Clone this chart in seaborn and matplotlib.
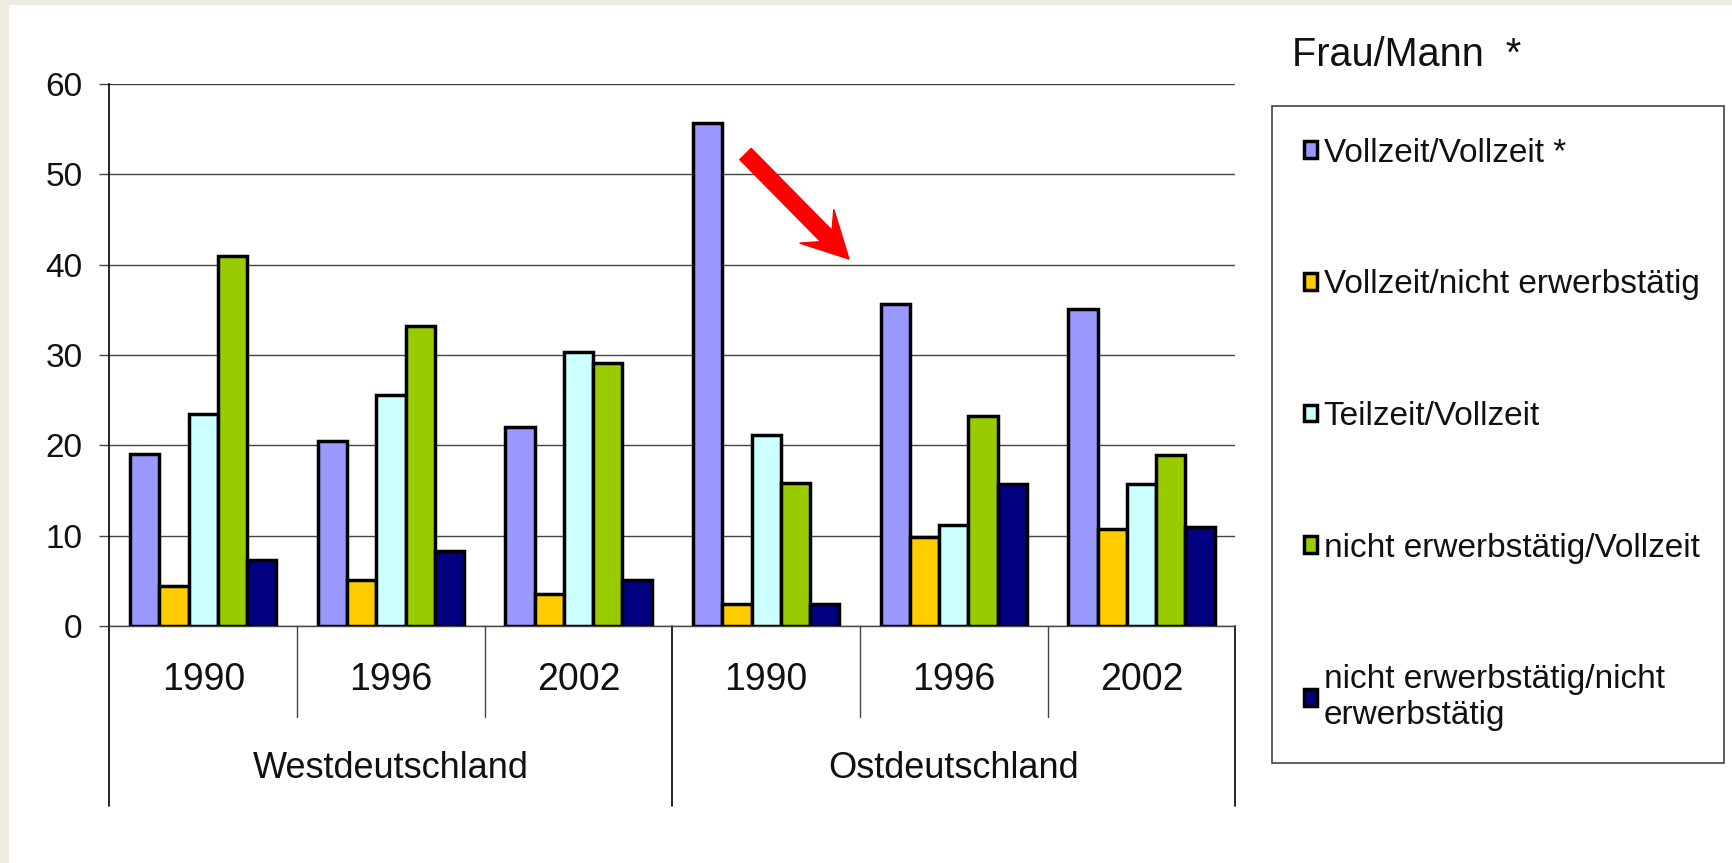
"""
Erwerbskonstellationen von Paaren (Frau/Mann), West- und Ostdeutschland
"""

import matplotlib
matplotlib.use('Agg')  # no display
import matplotlib.pyplot as plt
import matplotlib.transforms as mtransforms
from matplotlib.patches import Patch, Rectangle, FancyArrow
import pandas as pd
import seaborn as sns

# --- data -------------------------------------------------------------
regionen = ["Westdeutschland", "Ostdeutschland"]
jahre = ["1990", "1996", "2002"]

typen = [
    "Vollzeit/Vollzeit *",
    "Vollzeit/nicht erwerbstätig",
    "Teilzeit/Vollzeit",
    "nicht erwerbstätig/Vollzeit",
    "nicht erwerbstätig/nicht erwerbstätig",
]
legenden_texte = [
    "Vollzeit/Vollzeit *",
    "Vollzeit/nicht erwerbstätig",
    "Teilzeit/Vollzeit",
    "nicht erwerbstätig/Vollzeit",
    "nicht erwerbstätig/nicht\nerwerbstätig",
]

# West 1990, 1996, 2002, Ost 1990, 1996, 2002
vollzeit_vollzeit = [19.0, 20.5, 22.0, 55.7, 35.6, 35.1]
vollzeit_nicht = [4.4, 5.1, 3.6, 2.4, 9.8, 10.7]
teilzeit_vollzeit = [23.5, 25.6, 30.3, 21.2, 11.2, 15.7]
nicht_vollzeit = [41.0, 33.2, 29.1, 15.8, 23.3, 18.9]
nicht_nicht = [7.3, 8.3, 5.1, 2.4, 15.7, 11.0]

farben = ["#9999FF", "#FFCC00", "#CCFFFF", "#99CC00", "#000080"]

# long format table for seaborn
gruppen = [f"{r} {j}" for r in regionen for j in jahre]
werte = [vollzeit_vollzeit, vollzeit_nicht, teilzeit_vollzeit, nicht_vollzeit, nicht_nicht]
rows = []
for typ, reihe in zip(typen, werte):
    for gruppe, wert in zip(gruppen, reihe):
        rows.append({"gruppe": gruppe, "typ": typ, "anteil": wert})
df = pd.DataFrame(rows)

# --- style ------------------------------------------------------------
sns.set_style("white")
plt.rcParams['font.family'] = ['Liberation Sans', 'DejaVu Sans']
text_farbe = "#111111"
linien_farbe = "#444444"

fig = plt.figure(figsize=(17.32, 8.63), dpi=100)
fig.patch.set_facecolor("white")

# beige frame strips (left, top)
fig.patches.append(Rectangle((0, 0), 9 / 1732, 1, transform=fig.transFigure,
                             facecolor="#EEEBE0", edgecolor="none", zorder=0))
fig.patches.append(Rectangle((0, 1 - 5 / 863), 1, 5 / 863, transform=fig.transFigure,
                             facecolor="#EEEBE0", edgecolor="none", zorder=0))

ax = fig.add_axes([0.0632, 0.2746, 0.650, 0.628])

sns.barplot(
    data=df, x="gruppe", y="anteil", hue="typ",
    order=gruppen, hue_order=typen,
    palette=dict(zip(typen, farben)), saturation=1,
    width=0.78, gap=0, edgecolor="black", linewidth=2.5,
    legend=False, ax=ax, zorder=3,
)

ax.set_xlim(-0.5, len(gruppen) - 0.5)
ax.set_ylim(0, 60)
ax.set_yticks(range(0, 61, 10))
ax.set_xticks([])
ax.set_xlabel("")
ax.set_ylabel("")

ax.yaxis.grid(True, color=linien_farbe, linewidth=1.0, zorder=0)
ax.set_axisbelow(True)
ax.tick_params(axis='y', length=7.5, width=1, color=linien_farbe, pad=12,
               labelsize=24, labelcolor=text_farbe, left=True)

for side in ["top", "right"]:
    ax.spines[side].set_visible(False)
ax.spines["bottom"].set_color(linien_farbe)
ax.spines["bottom"].set_linewidth(1.0)
ax.spines["left"].set_color("black")
ax.spines["left"].set_linewidth(1.2)

# --- two level category axis -----------------------------------------
trans = mtransforms.blended_transform_factory(ax.transData, ax.transAxes)
n_jahre = len(jahre)
for i in range(len(gruppen) + 1):
    x = i - 0.5
    if i % n_jahre == 0:
        ax.plot([x, x], [0, -0.332], transform=trans, color="black",
                linewidth=1.2, clip_on=False)
    else:
        ax.plot([x, x], [0, -0.168], transform=trans, color=linien_farbe,
                linewidth=1.0, clip_on=False)

for i, gruppe in enumerate(gruppen):
    ax.text(i, -0.0996, jahre[i % n_jahre], transform=trans, ha="center",
            va="center", fontsize=27, color=text_farbe)
for k, region in enumerate(regionen):
    mitte = k * n_jahre + (n_jahre - 1) / 2
    ax.text(mitte, -0.262, region, transform=trans, ha="center",
            va="center", fontsize=26, color=text_farbe)

# --- legend -----------------------------------------------------------
handles = [Patch(facecolor=f, edgecolor="black", linewidth=2.5, label=t)
           for f, t in zip(farben, legenden_texte)]
leg = ax.legend(
    handles=handles, loc="upper left", mode="expand",
    bbox_to_anchor=(1272 / 1732, 1 - 106 / 863 - 0.01, 452 / 1732, 0.01),
    bbox_transform=fig.transFigure, borderaxespad=0,
    frameon=True, fancybox=False, edgecolor=linien_farbe, framealpha=1,
    fontsize=24, handlelength=0.4, handleheight=0.4, handletextpad=0.2,
    labelspacing=3.02, borderpad=0.95,
)
leg.get_frame().set_linewidth(1.2)
for t in leg.get_texts():
    t.set_color(text_farbe)
    t.set_linespacing(1.2)

fig.text(1292 / 1732, 1 - 55 / 863, "Frau/Mann  *", fontsize=28.5,
         ha="left", va="center", color=text_farbe)

# red arrow (in inches)
fig.add_artist(FancyArrow(
    7.455, 7.09, 1.035, -1.05, width=0.16, head_width=0.48, head_length=0.46,
    length_includes_head=True, overhang=0.3, color="#FF0000",
    transform=fig.dpi_scale_trans, zorder=5,
))

fig.savefig("out.png", dpi=100, facecolor=fig.get_facecolor())
plt.close(fig)
